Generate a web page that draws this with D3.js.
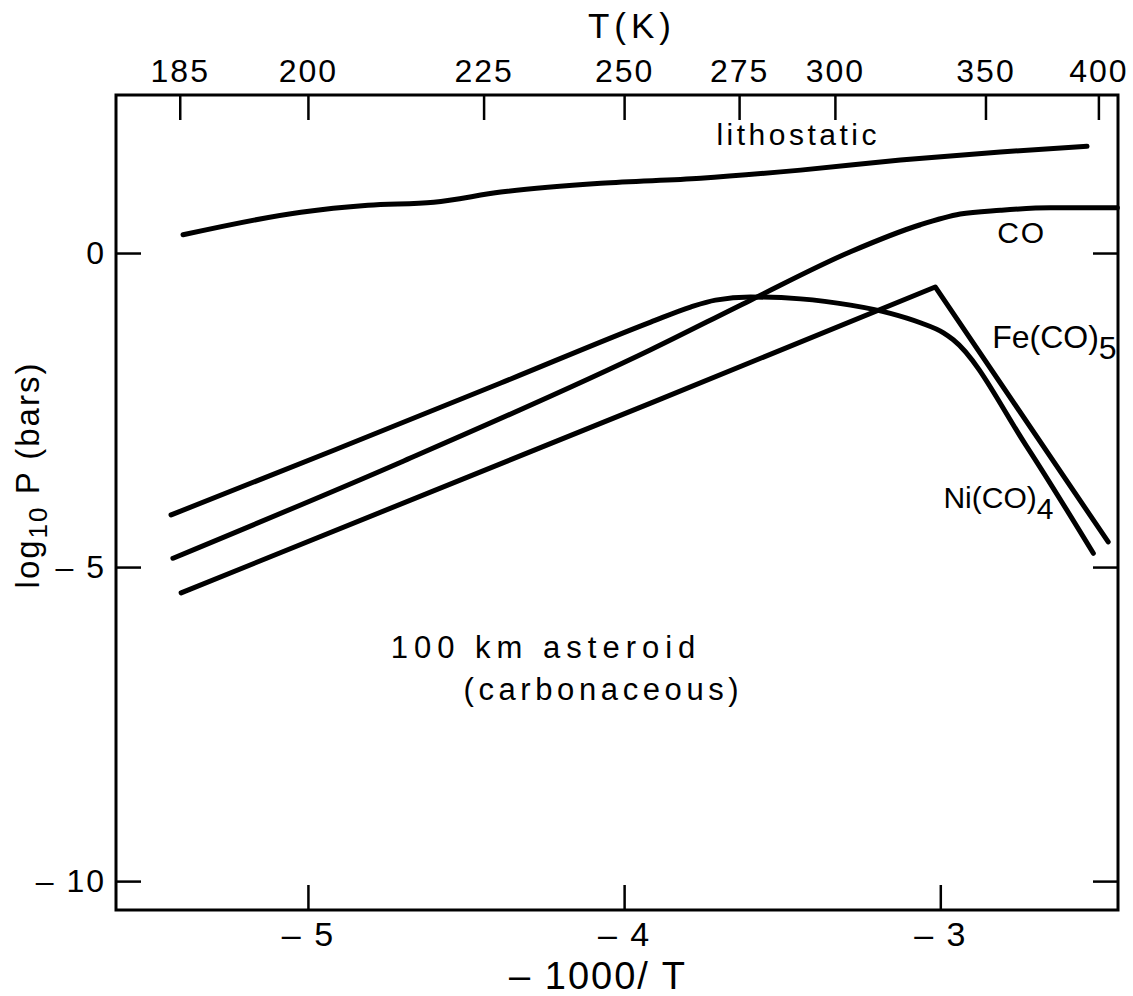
<!DOCTYPE html>
<html>
<head>
<meta charset="utf-8">
<script src="https://d3js.org/d3.v7.min.js"></script>
<style>
body { margin: 0; background: #fff; }
text { font-family: "Liberation Sans", Arial, sans-serif; fill: #000; }
.curve { fill: none; stroke: #000; stroke-width: 5; stroke-linecap: round; stroke-linejoin: round; }
.tick line { stroke: #000; stroke-width: 2.5; }
</style>
</head>
<body>
<svg width="1133" height="996"></svg>
<script>
// x is -1000/T, y is log10 P (bars)
var lithoX = [-5.395, -5.022, -4.810, -4.602, -4.390, -4.074, -3.758, -3.442, -3.126, -2.810, -2.536];
var lithoY = [0.29, 0.65, 0.76, 0.81, 0.97, 1.11, 1.19, 1.32, 1.48, 1.61, 1.70];

var coX = [-5.427, -4.706, -3.916, -3.600, -3.284, -3.063, -2.937, -2.810, -2.652, -2.440];
var coY = [-4.86, -3.33, -1.54, -0.75, 0.02, 0.45, 0.62, 0.68, 0.72, 0.72];

var niX = [-5.433, -4.918, -4.390, -3.916, -3.790, -3.711, -3.600, -3.442, -3.284, -3.158, -3.063, -2.990, -2.959, -2.728, -2.516];
var niY = [-4.17, -3.14, -2.07, -1.10, -0.86, -0.75, -0.70, -0.73, -0.83, -0.96, -1.11, -1.27, -1.38, -3.07, -4.78];

var feX = [-5.401, -3.916, -3.016, -2.469];
var feY = [-5.41, -2.39, -0.54, -4.60];

var tempTicks = [185, 200, 225, 250, 275, 300, 350, 400];
var invTicks = [-5, -4, -3];
var logTicks = [0, -5, -10];

function draw() {
  var svg = d3.select("svg");
  var m = {left: 116, right: 1118, top: 95, bottom: 910};

  var x = d3.scaleLinear().domain([-5.607, -2.438]).range([m.left, m.right]);
  var y = d3.scaleLinear().domain([2.516, -10.46]).range([m.top, m.bottom]);

  function pts(xs, ys) { return xs.map(function(v, i) { return [v, ys[i]]; }); }

  var smooth = d3.line().x(function(d){return x(d[0])}).y(function(d){return y(d[1])}).curve(d3.curveMonotoneX);
  var sharp = d3.line().x(function(d){return x(d[0])}).y(function(d){return y(d[1])});

  svg.append("path").attr("class", "curve").attr("d", smooth(pts(lithoX, lithoY)));
  svg.append("path").attr("class", "curve").attr("d", smooth(pts(coX, coY)));
  svg.append("path").attr("class", "curve").attr("d", smooth(pts(niX, niY)));
  svg.append("path").attr("class", "curve").attr("d", sharp(pts(feX, feY)));

  function dash(d) { return d < 0 ? "\u2013 " + Math.abs(d) : String(d); }

  var bx = svg.append("g").attr("transform", "translate(0," + m.bottom + ")")
    .call(d3.axisBottom(x).tickValues(invTicks).tickSizeInner(-25).tickSizeOuter(0).tickPadding(12).tickFormat(dash));
  var tx = svg.append("g").attr("transform", "translate(0," + m.top + ")")
    .call(d3.axisTop(x).tickValues(tempTicks.map(function(t){return -1000 / t;})).tickSizeInner(-25).tickSizeOuter(0).tickPadding(13)
      .tickFormat(function(d, i){ return tempTicks[i]; }));
  var ly = svg.append("g").attr("transform", "translate(" + m.left + ",0)")
    .call(d3.axisLeft(y).tickValues(logTicks).tickSizeInner(-25).tickSizeOuter(0).tickPadding(10).tickFormat(dash));
  var ry = svg.append("g").attr("transform", "translate(" + m.right + ",0)")
    .call(d3.axisRight(y).tickValues(logTicks).tickSizeInner(-25).tickSizeOuter(0).tickFormat(""));

  [bx, tx, ly, ry].forEach(function(g) {
    g.select(".domain").remove();
    g.attr("font-family", null).attr("font-size", null);
    g.selectAll("text").style("font-size", "32px").style("letter-spacing", "2px");
  });
  bx.selectAll("text").style("font-size", "34px");

  svg.append("rect").attr("x", m.left).attr("y", m.top).attr("width", m.right - m.left).attr("height", m.bottom - m.top)
    .attr("fill", "none").attr("stroke", "#000").attr("stroke-width", 3);

  // axis titles
  svg.append("text").attr("x", 632).attr("y", 38).attr("text-anchor", "middle")
    .style("font-size", "35px").style("letter-spacing", "5px").text("T(K)");
  svg.append("text").attr("x", 598).attr("y", 989).attr("text-anchor", "middle")
    .style("font-size", "38px").style("letter-spacing", "2px").text("\u2013 1000/ T");

  var yl = svg.append("text").attr("transform", "translate(39,475) rotate(-90)").attr("text-anchor", "middle")
    .style("font-size", "33px").style("letter-spacing", "2px");
  yl.append("tspan").text("log");
  yl.append("tspan").attr("baseline-shift", "-30%").style("font-size", "26px").text("10");
  yl.append("tspan").text(" P (bars)");

  // curve labels
  function label(xv, yv, txt, sub, size) {
    var t = svg.append("text").attr("x", x(xv)).attr("y", y(yv)).style("font-size", size + "px").style("letter-spacing", "2px");
    t.append("tspan").text(txt);
    if (sub) t.append("tspan").attr("baseline-shift", "-35%").text(sub);
    return t;
  }
  label(-3.708, 1.72, "lithostatic", null, 30).style("letter-spacing", "3.5px");
  label(-2.82, 0.16, "CO", null, 30);
  label(-2.836, -1.51, "Fe(CO)", "5", 32).style("letter-spacing", "0px");
  label(-2.99, -4.06, "Ni(CO)", "4", 30).style("letter-spacing", "0px");
  label(-4.738, -6.45, "100 km asteroid", null, 31).style("letter-spacing", "6px");
  label(-4.508, -7.12, "(carbonaceous)", null, 31).style("letter-spacing", "4.6px");
}
draw();
</script>
</body>
</html>
